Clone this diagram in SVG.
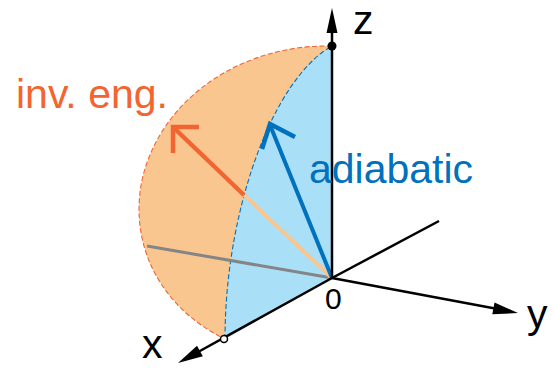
<svg xmlns="http://www.w3.org/2000/svg" width="554" height="369" viewBox="0 0 554 369">
<style>
.lbl{font-family:"Liberation Sans",Arial,sans-serif;font-size:41px;fill:#000}
.axis{stroke:#000;stroke-width:2.5;fill:none}
.head{fill:#000;stroke:none}
</style>
<rect width="554" height="369" fill="#fff"/>
<g id="hemisphere">
<path d="M332,46 C240,44 160,100 142,180 C128,250 165,310 225,339 L332,278 Z" fill="#F9C68F"/>
<path d="M332,46 C240,44 160,100 142,180 C128,250 165,310 225,339" fill="none" stroke="#F26531" stroke-width="1.1" stroke-dasharray="5 2.5"/>
</g>
<g id="quarter">
<path d="M225,339 C225,210.3 272.9,79.1 332,46 L332,278 Z" fill="#AADFF8"/>
<path d="M225,339 C225,210.3 272.9,79.1 332,46" fill="none" stroke="#0071BC" stroke-width="1.1" stroke-dasharray="5 2.5"/>
</g>
<g id="connectors">
<line x1="147" y1="246" x2="332" y2="278" stroke="#858585" stroke-width="3"/>
<line x1="332" y1="278" x2="244" y2="195" stroke="#F9C68F" stroke-width="4"/>
<line x1="244" y1="195" x2="173" y2="127" stroke="#F26531" stroke-width="4.5"/>
<polyline points="199,127 173,127 173,153" fill="none" stroke="#F26531" stroke-width="4.5"/>
<line x1="332" y1="278" x2="270" y2="125" stroke="#0071BC" stroke-width="4"/>
<polyline points="295,137 270,124 262,149" fill="none" stroke="#0071BC" stroke-width="4.5"/>
<line class="axis" x1="332" y1="278" x2="332" y2="32"/>
<polygon class="head" points="332,8 326.5,33 337.5,33"/>
<line class="axis" x1="332" y1="278" x2="439" y2="221"/>
<line class="axis" x1="332" y1="278" x2="495" y2="308.5"/>
<polygon class="head" points="518,313 494.5,302.5 492.3,314.3"/>
<line class="axis" x1="332" y1="278" x2="199" y2="351.5"/>
<polygon class="head" points="178,363 202.8,356.2 197,345.7"/>
<circle cx="332" cy="46" r="4.5" fill="#000"/>
<circle cx="224" cy="339" r="3.5" fill="#fff" stroke="#000" stroke-width="1.5"/>
</g>
<g id="labels">
<text class="lbl" x="353" y="34">z</text>
<text class="lbl" x="527" y="328">y</text>
<text class="lbl" x="142" y="358">x</text>
<text class="lbl" x="325" y="309" style="font-size:30px">0</text>
<text class="lbl" x="16" y="108" style="fill:#F26531">inv. eng.</text>
<text class="lbl" x="309" y="183" style="fill:#0071BC">adiabatic</text>
</g>
</svg>
